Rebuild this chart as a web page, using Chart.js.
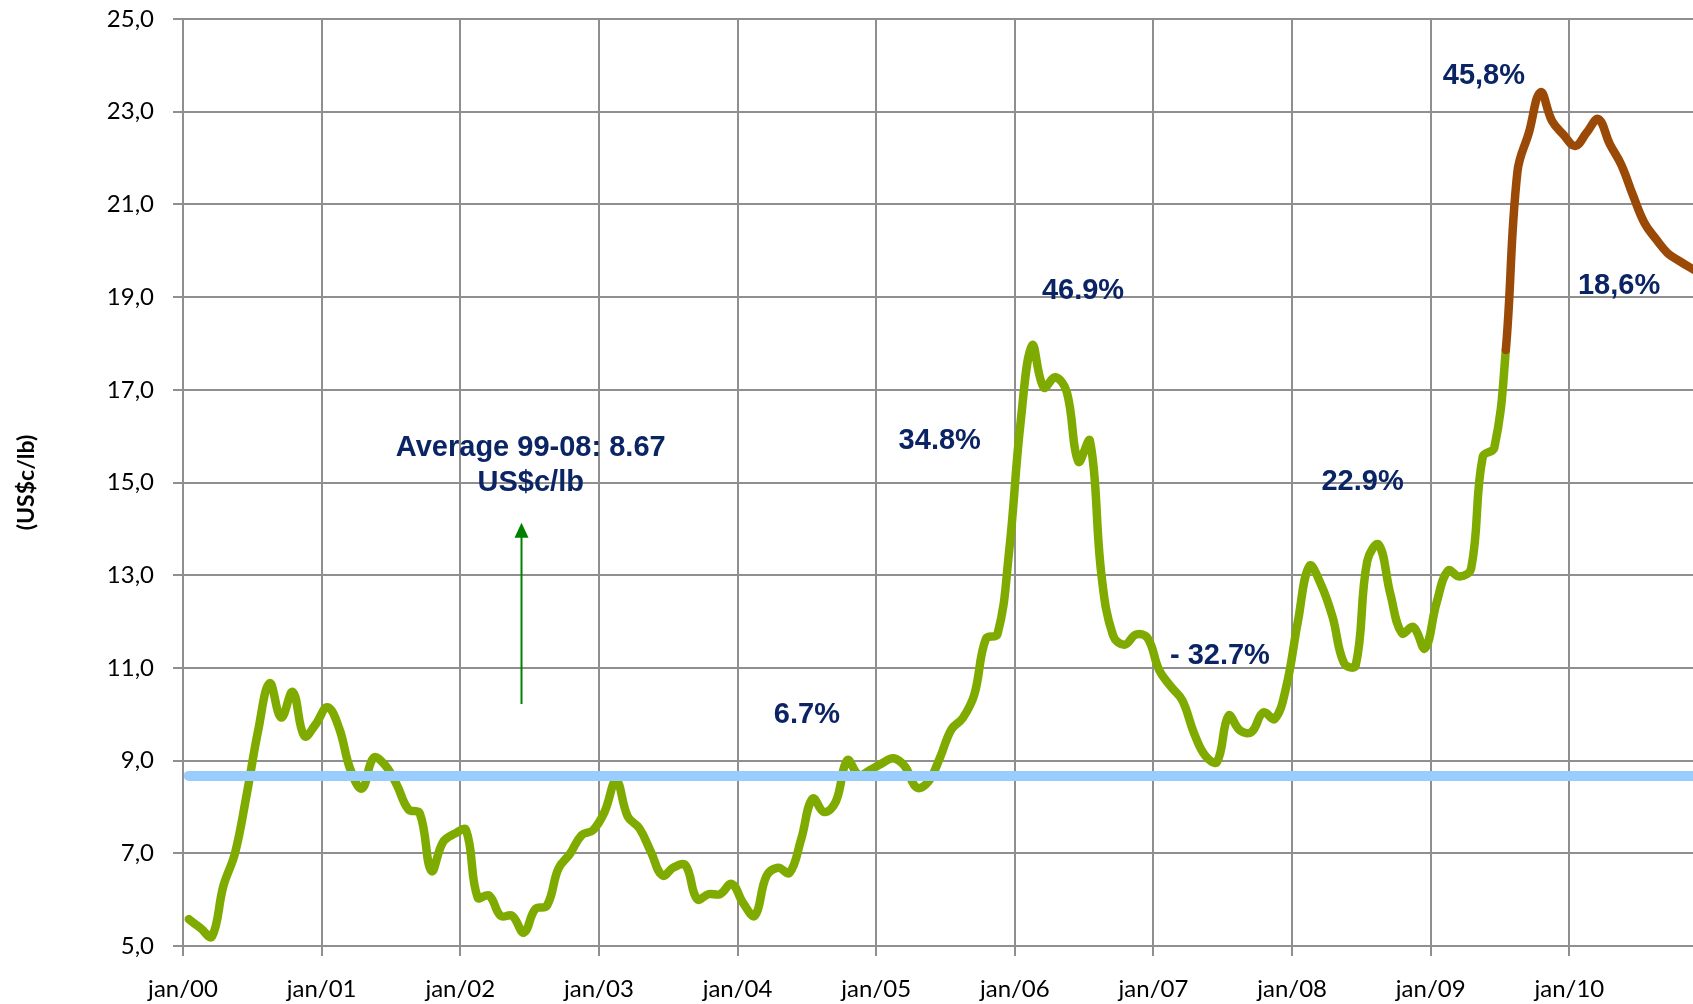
<!DOCTYPE html>
<html>
<head>
<meta charset="utf-8">
<script src="https://cdn.jsdelivr.net/npm/chart.js@4.4.1/dist/chart.umd.min.js"></script>
<style>
html, body { margin: 0; padding: 0; background: #fff; overflow: hidden; }
#contenedor { width: 1693px; height: 1004px; }
</style>
</head>
<body>
<div id="contenedor"><canvas id="grafico"></canvas></div>
<script>
// Años del eje X (una marca en cada enero)
const anios = [2000, 2001, 2002, 2003, 2004, 2005, 2006, 2007, 2008, 2009, 2010];

// Precio mensual (US$c/lb), enero a diciembre de cada año
const p2000 = [5.58, 5.39, 5.2, 6.3, 7.0, 8.25, 9.64, 10.67, 9.93, 10.48, 9.53, 9.79];
const p2001 = [10.15, 9.71, 8.8, 8.4, 9.06, 8.9, 8.48, 7.95, 7.86, 6.62, 7.24, 7.42];
const p2002 = [7.5, 6.05, 6.09, 5.65, 5.65, 5.29, 5.8, 5.87, 6.67, 6.99, 7.39, 7.5];
const p2003 = [7.9, 8.57, 7.79, 7.54, 7.03, 6.52, 6.7, 6.74, 6.01, 6.12, 6.12, 6.34];
const p2004 = [5.92, 5.65, 6.51, 6.69, 6.58, 7.3, 8.18, 7.89, 8.11, 9.01, 8.69, 8.8];
const p2005 = [8.94, 9.05, 8.87, 8.42, 8.54, 9.05, 9.67, 9.92, 10.43, 11.63, 11.73, 13.5];
const p2006 = [16.3, 17.96, 17.05, 17.27, 16.95, 15.45, 15.9, 13.0, 11.7, 11.5, 11.72, 11.64];
const p2007 = [10.95, 10.6, 10.3, 9.6, 9.1, 8.97, 9.97, 9.65, 9.62, 10.04, 9.9, 10.6];
const p2008 = [12.0, 13.2, 12.8, 12.1, 11.1, 11.05, 13.3, 13.66, 12.6, 11.75, 11.88, 11.42];
const p2009 = [12.4, 13.1, 12.97, 13.15, 15.55, 15.75, 17.86, 21.7, 22.55, 23.42, 22.8, 22.5];
const p2010 = [22.26, 22.55, 22.84, 22.3, 21.85, 21.2, 20.6, 20.25, 19.95, 19.78, 19.63, 19.5];

// Promedio 99-08
const promedio = 8.67;

// Desde este mes (jul/09) la curva pasa a marrón
const inicioMarron = { anio: 2009, mes: 7 };

// Escala Y
const yMin = 5, yMax = 25, yPaso = 2;

const precios = [p2000, p2001, p2002, p2003, p2004, p2005, p2006, p2007, p2008, p2009, p2010];

// Cada dato se sitúa a mitad de su mes (meses desde ene/00)
const puntos = [];
precios.forEach((fila, a) => {
    fila.forEach((v, m) => puntos.push({ x: a * 12 + m + 0.5, y: v }));
});
const idxMarron = (inicioMarron.anio - anios[0]) * 12 + inicioMarron.mes - 1;

const lineaPromedio = [
    { x: puntos[0].x, y: promedio },
    { x: puntos[puntos.length - 1].x, y: promedio }
];

const VERDE = "#7fab00";
const MARRON = "#9a4a06";
const AZUL_CLARO = "#99ccff";
const AZUL_TEXTO = "#0b2463";
const GRIS = "#8f8f8f";

// Textos sobre el gráfico (en coordenadas de los ejes)
const notas = [
    { texto: "Average 99-08: 8.67", x: 30.1, y: 15.75 },
    { texto: "US$c/lb", x: 30.1, y: 15.0 },
    { texto: "34.8%", x: 65.5, y: 15.89 },
    { texto: "46.9%", x: 77.9, y: 19.13 },
    { texto: "6.7%", x: 54.0, y: 9.99 },
    { texto: "- 32.7%", x: 89.75, y: 11.25 },
    { texto: "22.9%", x: 102.1, y: 15.02 },
    { texto: "45,8%", x: 112.6, y: 23.76 },
    { texto: "18,6%", x: 124.3, y: 19.24 }
];
const flecha = { x: 29.3, desde: 10.22, hasta: 14.13 };

const pluginNotas = {
    id: "notas",
    afterDatasetsDraw(chart) {
        const ctx = chart.ctx;
        const sx = chart.scales.x, sy = chart.scales.y;
        ctx.save();
        // flecha verde
        const fx = sx.getPixelForValue(flecha.x);
        const y0 = sy.getPixelForValue(flecha.desde);
        const y1 = sy.getPixelForValue(flecha.hasta);
        ctx.strokeStyle = "#008000";
        ctx.fillStyle = "#008000";
        ctx.lineWidth = 2;
        ctx.beginPath();
        ctx.moveTo(fx, y0);
        ctx.lineTo(fx, y1 + 12);
        ctx.stroke();
        ctx.beginPath();
        ctx.moveTo(fx, y1);
        ctx.lineTo(fx - 7, y1 + 15);
        ctx.lineTo(fx + 7, y1 + 15);
        ctx.closePath();
        ctx.fill();
        // textos
        ctx.fillStyle = AZUL_TEXTO;
        ctx.font = "bold 29px 'Liberation Sans', Arial, sans-serif";
        ctx.textAlign = "center";
        ctx.textBaseline = "middle";
        notas.forEach(n => {
            ctx.fillText(n.texto, sx.getPixelForValue(n.x), sy.getPixelForValue(n.y));
        });
        ctx.restore();
    }
};

const fuenteEjes = { family: "Lato, 'Open Sans', sans-serif", size: 24 };

new Chart(document.getElementById("grafico"), {
    type: "line",
    data: {
        datasets: [
            {
                label: "Average",
                data: lineaPromedio,
                borderColor: AZUL_CLARO,
                borderWidth: 10,
                borderCapStyle: "round",
                pointRadius: 0,
                fill: false
            },
            {
                label: "Precio",
                data: puntos,
                borderColor: VERDE,
                borderWidth: 8.5,
                borderCapStyle: "round",
                borderJoinStyle: "round",
                tension: 0.4,
                pointRadius: 0,
                fill: false,
                segment: {
                    borderColor: c => c.p0DataIndex >= idxMarron ? MARRON : VERDE
                }
            }
        ]
    },
    options: {
        responsive: true,
        maintainAspectRatio: false,
        animation: false,
        layout: { padding: { top: 19, right: 0, bottom: 0, left: 0 } },
        plugins: {
            legend: { display: false },
            tooltip: { enabled: false }
        },
        scales: {
            x: {
                type: "linear",
                min: 0,
                max: 130.7,
                afterFit: s => { s.height = 58; },
                grid: { color: GRIS, lineWidth: 2, tickLength: 10, tickColor: GRIS },
                border: { color: GRIS, width: 2 },
                ticks: {
                    stepSize: 12,
                    includeBounds: false,
                    autoSkip: false,
                    maxRotation: 0,
                    padding: 19,
                    color: "#000",
                    font: fuenteEjes,
                    callback: v => "jan/" + String(anios[Math.round(v / 12)] % 100).padStart(2, "0")
                }
            },
            y: {
                min: yMin,
                max: yMax,
                afterFit: s => { s.width = 183; s.paddingTop = 0; s.paddingBottom = 0; },
                grid: { color: GRIS, lineWidth: 2, tickLength: 10, tickColor: GRIS },
                border: { color: GRIS, width: 2 },
                ticks: {
                    stepSize: yPaso,
                    padding: 19,
                    color: "#000",
                    font: fuenteEjes,
                    callback: v => v.toFixed(1).replace(".", ",")
                },
                title: {
                    display: true,
                    text: "(US$c/lb)",
                    color: "#000",
                    font: { family: "Lato, 'Open Sans', sans-serif", size: 23, weight: "bold" },
                    padding: { top: 13, bottom: 0 }
                }
            }
        }
    },
    plugins: [pluginNotas]
});
</script>
</body>
</html>
